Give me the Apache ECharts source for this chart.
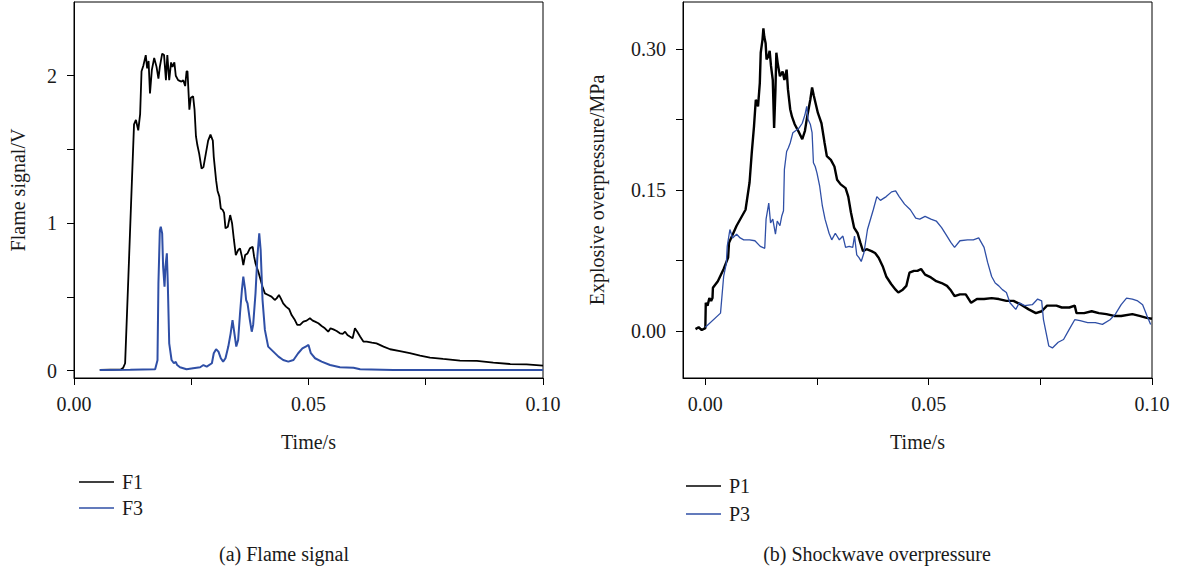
<!DOCTYPE html>
<html>
<head>
<meta charset="utf-8">
<script src="https://cdn.jsdelivr.net/npm/echarts@6/dist/echarts.min.js"></script>
<style>
html,body{margin:0;padding:0;background:#fff;}
#chart{width:1178px;height:572px;}
</style>
</head>
<body>
<div id="chart"></div>
<script>
// ---------- data (time in s, value) ----------
const F1_DATA = [[0.0055,0.005],[0.0100,0.008],[0.0105,0.02],[0.0109,0.05],[0.0116,0.64],[0.0122,1.16],[0.0128,1.67],[0.0132,1.70],[0.0137,1.63],[0.0141,1.74],[0.0144,2.03],[0.0148,2.07],[0.0153,2.14],[0.0156,2.05],[0.0159,2.10],[0.0162,1.88],[0.0166,2.04],[0.0171,2.12],[0.0176,2.06],[0.0180,1.98],[0.0183,2.06],[0.0188,2.15],[0.0192,2.14],[0.0196,1.97],[0.0199,2.14],[0.0203,1.97],[0.0207,2.09],[0.0210,2.06],[0.0214,2.09],[0.0217,2.00],[0.0222,1.97],[0.0229,1.96],[0.0233,1.97],[0.0237,1.93],[0.0240,2.03],[0.0242,2.03],[0.0246,1.77],[0.0249,1.85],[0.0254,1.86],[0.0257,1.77],[0.0260,1.59],[0.0263,1.53],[0.0267,1.47],[0.0272,1.37],[0.0276,1.38],[0.0281,1.47],[0.0286,1.56],[0.0291,1.60],[0.0296,1.56],[0.0298,1.45],[0.0303,1.29],[0.0306,1.22],[0.0310,1.18],[0.0313,1.10],[0.0317,1.09],[0.0320,1.07],[0.0323,0.965],[0.0328,0.976],[0.0333,1.055],[0.0337,1.0],[0.0341,0.886],[0.0345,0.784],[0.0350,0.818],[0.0354,0.829],[0.0358,0.773],[0.0361,0.716],[0.0365,0.784],[0.0370,0.795],[0.0375,0.829],[0.0381,0.84],[0.0384,0.773],[0.0387,0.727],[0.0393,0.671],[0.0398,0.615],[0.0402,0.569],[0.0407,0.524],[0.0414,0.513],[0.0421,0.502],[0.0428,0.479],[0.0432,0.49],[0.0437,0.513],[0.0441,0.49],[0.0446,0.456],[0.0452,0.434],[0.0459,0.416],[0.0464,0.377],[0.0471,0.343],[0.0476,0.31],[0.0482,0.31],[0.0489,0.332],[0.0496,0.339],[0.0503,0.355],[0.0509,0.339],[0.0514,0.332],[0.0521,0.321],[0.0528,0.303],[0.0535,0.287],[0.0542,0.264],[0.0547,0.287],[0.0553,0.28],[0.0560,0.269],[0.0567,0.253],[0.0573,0.249],[0.0578,0.264],[0.0583,0.242],[0.0588,0.231],[0.0594,0.219],[0.0599,0.287],[0.0604,0.264],[0.0610,0.231],[0.0617,0.197],[0.0624,0.197],[0.0635,0.19],[0.0645,0.185],[0.0660,0.163],[0.0674,0.145],[0.0695,0.133],[0.0716,0.118],[0.0738,0.102],[0.0759,0.088],[0.0787,0.079],[0.0823,0.068],[0.0859,0.066],[0.0894,0.054],[0.0930,0.045],[0.0965,0.043],[0.1000,0.034]];

const F3_DATA = [[0.0055,0.005],[0.0120,0.006],[0.0173,0.01],[0.0178,0.07],[0.0180,0.59],[0.0183,0.95],[0.0185,0.976],[0.0188,0.93],[0.0190,0.705],[0.0193,0.57],[0.0195,0.705],[0.0198,0.795],[0.0200,0.59],[0.0203,0.185],[0.0208,0.072],[0.0213,0.05],[0.0217,0.06],[0.0220,0.038],[0.0226,0.023],[0.0240,0.009],[0.0254,0.016],[0.0269,0.023],[0.0276,0.038],[0.0283,0.027],[0.0294,0.05],[0.0298,0.118],[0.0303,0.145],[0.0308,0.129],[0.0313,0.084],[0.0318,0.061],[0.0323,0.084],[0.0329,0.163],[0.0334,0.253],[0.0338,0.343],[0.0342,0.253],[0.0346,0.163],[0.0350,0.208],[0.0354,0.389],[0.0358,0.547],[0.0361,0.637],[0.0365,0.547],[0.0367,0.479],[0.0370,0.456],[0.0375,0.343],[0.0379,0.264],[0.0382,0.31],[0.0387,0.524],[0.0391,0.773],[0.0395,0.931],[0.0398,0.818],[0.0402,0.479],[0.0407,0.276],[0.0414,0.163],[0.0425,0.129],[0.0436,0.095],[0.0446,0.072],[0.0457,0.061],[0.0468,0.072],[0.0478,0.118],[0.0487,0.151],[0.0496,0.167],[0.0500,0.174],[0.0505,0.118],[0.0514,0.084],[0.0528,0.061],[0.0546,0.038],[0.0567,0.023],[0.0596,0.02],[0.0610,0.009],[0.0681,0.005],[0.1000,0.005]];

const P1_DATA = [[-0.0022,0.002],[-0.0015,0.004],[-0.0008,0.001],[0.0000,0.003],[0.0001,0.030],[0.0005,0.027],[0.0009,0.035],[0.0013,0.032],[0.0016,0.035],[0.0017,0.046],[0.0028,0.053],[0.0041,0.066],[0.0051,0.078],[0.0053,0.094],[0.0070,0.112],[0.0090,0.129],[0.0099,0.158],[0.0104,0.19],[0.0109,0.218],[0.0113,0.246],[0.0118,0.239],[0.0122,0.264],[0.0124,0.296],[0.0128,0.31],[0.0130,0.322],[0.0132,0.313],[0.0135,0.306],[0.0137,0.289],[0.0141,0.292],[0.0144,0.298],[0.0147,0.282],[0.0151,0.267],[0.0154,0.216],[0.0157,0.257],[0.0159,0.296],[0.0162,0.285],[0.0167,0.271],[0.0173,0.276],[0.0177,0.267],[0.0182,0.278],[0.0185,0.257],[0.0190,0.236],[0.0194,0.228],[0.0200,0.22],[0.0210,0.211],[0.0217,0.204],[0.0223,0.213],[0.0228,0.228],[0.0235,0.246],[0.0239,0.259],[0.0243,0.25],[0.0252,0.232],[0.0260,0.221],[0.0267,0.2],[0.0272,0.186],[0.0281,0.182],[0.0289,0.175],[0.0295,0.161],[0.0303,0.156],[0.0314,0.152],[0.0320,0.143],[0.0326,0.126],[0.0333,0.11],[0.0341,0.104],[0.0347,0.094],[0.0353,0.085],[0.0361,0.087],[0.0372,0.085],[0.0380,0.083],[0.0388,0.078],[0.0397,0.069],[0.0405,0.058],[0.0416,0.05],[0.0426,0.044],[0.0432,0.041],[0.0442,0.044],[0.0450,0.048],[0.0457,0.062],[0.0467,0.064],[0.0475,0.064],[0.0483,0.066],[0.0492,0.06],[0.0505,0.057],[0.0517,0.053],[0.0529,0.051],[0.0541,0.048],[0.0550,0.043],[0.0558,0.037],[0.0570,0.039],[0.0583,0.039],[0.0595,0.03],[0.0608,0.034],[0.0624,0.034],[0.0641,0.035],[0.0657,0.034],[0.0674,0.032],[0.0690,0.032],[0.0707,0.028],[0.0724,0.023],[0.0740,0.019],[0.0753,0.021],[0.0765,0.027],[0.0786,0.027],[0.0798,0.025],[0.0815,0.025],[0.0827,0.027],[0.0831,0.019],[0.0848,0.019],[0.0865,0.021],[0.0881,0.019],[0.0898,0.018],[0.0915,0.016],[0.0931,0.016],[0.0956,0.018],[0.0972,0.016],[0.0988,0.014],[0.1000,0.013]];

const P3_DATA = [[0.0000,0.004],[0.0034,0.019],[0.0041,0.058],[0.0047,0.072],[0.0049,0.09],[0.0055,0.108],[0.0061,0.099],[0.0070,0.103],[0.0078,0.099],[0.0086,0.097],[0.0099,0.097],[0.0111,0.096],[0.0123,0.09],[0.0133,0.088],[0.0136,0.119],[0.0142,0.136],[0.0146,0.115],[0.0151,0.119],[0.0157,0.103],[0.0161,0.117],[0.0167,0.112],[0.0171,0.122],[0.0175,0.128],[0.0177,0.172],[0.0182,0.191],[0.0186,0.195],[0.0190,0.2],[0.0196,0.211],[0.0202,0.213],[0.0210,0.216],[0.0217,0.221],[0.0223,0.23],[0.0227,0.239],[0.0230,0.225],[0.0235,0.22],[0.0239,0.211],[0.0242,0.179],[0.0246,0.175],[0.0250,0.168],[0.0256,0.154],[0.0262,0.133],[0.0268,0.119],[0.0277,0.104],[0.0283,0.097],[0.0291,0.104],[0.0300,0.097],[0.0308,0.101],[0.0314,0.089],[0.0322,0.09],[0.0330,0.089],[0.0334,0.101],[0.0339,0.081],[0.0344,0.078],[0.0349,0.074],[0.0355,0.083],[0.0363,0.108],[0.0376,0.129],[0.0384,0.143],[0.0392,0.139],[0.0405,0.143],[0.0417,0.148],[0.0426,0.149],[0.0434,0.143],[0.0446,0.135],[0.0459,0.129],[0.0471,0.12],[0.0480,0.119],[0.0492,0.122],[0.0505,0.119],[0.0517,0.117],[0.0529,0.11],[0.0541,0.101],[0.0550,0.094],[0.0558,0.089],[0.0570,0.096],[0.0587,0.097],[0.0600,0.097],[0.0612,0.099],[0.0624,0.089],[0.0632,0.073],[0.0641,0.058],[0.0649,0.051],[0.0657,0.048],[0.0665,0.044],[0.0674,0.041],[0.0682,0.03],[0.0695,0.023],[0.0703,0.03],[0.0715,0.027],[0.0732,0.028],[0.0744,0.034],[0.0753,0.032],[0.0757,0.012],[0.0763,-0.002],[0.0769,-0.016],[0.0777,-0.018],[0.0790,-0.012],[0.0802,-0.009],[0.0815,0.002],[0.0827,0.012],[0.0839,0.011],[0.0856,0.009],[0.0873,0.009],[0.0889,0.007],[0.0906,0.012],[0.0918,0.018],[0.0931,0.028],[0.0943,0.035],[0.0956,0.034],[0.0968,0.032],[0.0979,0.028],[0.0989,0.016],[0.0997,0.007]];

// tick positions and labels
const X_TICKS = [0, 0.025, 0.05, 0.075, 0.1];
const X_LABELS = [0, 0.05, 0.1];
const YA_TICKS = [0, 0.5, 1, 1.5, 2];
const YA_LABELS = [0, 1, 2];
const YB_TICKS = [0, 0.075, 0.15, 0.225, 0.3];
const YB_LABELS = [0, 0.15, 0.3];

const FONT = 'Liberation Serif';
const TXT = '#1a1a1a';
const BLACK = '#000000';
const BLUE = '#2f4fa6';

function xAxis(gi, min, name) {
  return {
    gridIndex: gi, type: 'value', min: min, max: 0.1,
    axisLine: { show: true, onZero: false, lineStyle: { color: '#000', width: 1 } },
    axisTick: { show: true, inside: false, length: 7, customValues: X_TICKS, lineStyle: { color: '#000' } },
    axisLabel: { customValues: X_LABELS, formatter: v => v.toFixed(2), fontFamily: FONT, fontSize: 20, color: TXT, margin: 16 },
    splitLine: { show: false },
    name: name, nameLocation: 'middle', nameGap: 54,
    nameTextStyle: { fontFamily: FONT, fontSize: 20, color: TXT }
  };
}
function yAxis(gi, min, max, ticks, labels, fmt, name, gap) {
  return {
    gridIndex: gi, type: 'value', min: min, max: max,
    axisLine: { show: true, onZero: false, lineStyle: { color: '#000', width: 1 } },
    axisTick: { show: true, inside: false, length: 7, customValues: ticks, lineStyle: { color: '#000' } },
    axisLabel: { customValues: labels, formatter: fmt, fontFamily: FONT, fontSize: 20, color: TXT, margin: 17 },
    splitLine: { show: false },
    name: name, nameLocation: 'middle', nameGap: gap, nameRotate: 90,
    nameTextStyle: { fontFamily: FONT, fontSize: 20, color: TXT }
  };
}

const chart = echarts.init(document.getElementById('chart'), null, { renderer: 'svg' });
chart.setOption({
  animation: false,
  backgroundColor: '#fff',
  grid: [
    { left: 74, top: 2, width: 469, height: 376, show: true, borderColor: '#000', borderWidth: 1, containLabel: false },
    { left: 683, top: 2, width: 469, height: 376, show: true, borderColor: '#000', borderWidth: 1, containLabel: false }
  ],
  xAxis: [ xAxis(0, 0, 'Time/s'), xAxis(1, -0.005, 'Time/s') ],
  yAxis: [
    yAxis(0, -0.05, 2.5, YA_TICKS, YA_LABELS, v => String(v), 'Flame signal/V', 46),
    yAxis(1, -0.05, 0.35, YB_TICKS, YB_LABELS, v => v.toFixed(2), 'Explosive overpressure/MPa', 76)
  ],
  legend: [
    { data: ['F1', 'F3'], orient: 'vertical', left: 74, top: 467, itemWidth: 35, itemHeight: 1.5, itemGap: 6, icon: 'rect',
      textStyle: { fontFamily: FONT, fontSize: 20, color: TXT, padding: [0, 0, 0, 3] } },
    { data: ['P1', 'P3'], orient: 'vertical', left: 681, top: 471, itemWidth: 35, itemHeight: 1.5, itemGap: 8, icon: 'rect',
      textStyle: { fontFamily: FONT, fontSize: 20, color: TXT, padding: [0, 0, 0, 3] } }
  ],
  graphic: [
    { type: 'text', x: 284, y: 554, style: { text: '(a) Flame signal', fill: TXT, font: '20px Liberation Serif', align: 'center', verticalAlign: 'middle' } },
    { type: 'text', x: 877, y: 554, style: { text: '(b) Shockwave overpressure', fill: TXT, font: '20px Liberation Serif', align: 'center', verticalAlign: 'middle' } }
  ],
  series: [
    { name: 'F1', type: 'line', xAxisIndex: 0, yAxisIndex: 0, data: F1_DATA, showSymbol: false, symbol: 'none', color: BLACK, lineStyle: { color: BLACK, width: 1.8 }, z: 2 },
    { name: 'F3', type: 'line', xAxisIndex: 0, yAxisIndex: 0, data: F3_DATA, showSymbol: false, symbol: 'none', color: BLUE, lineStyle: { color: BLUE, width: 2 }, z: 3 },
    { name: 'P1', type: 'line', xAxisIndex: 1, yAxisIndex: 1, data: P1_DATA, showSymbol: false, symbol: 'none', color: BLACK, lineStyle: { color: BLACK, width: 2.4 }, z: 2 },
    { name: 'P3', type: 'line', xAxisIndex: 1, yAxisIndex: 1, data: P3_DATA, showSymbol: false, symbol: 'none', color: BLUE, lineStyle: { color: BLUE, width: 1.3 }, z: 3 }
  ]
});
</script>
</body>
</html>
